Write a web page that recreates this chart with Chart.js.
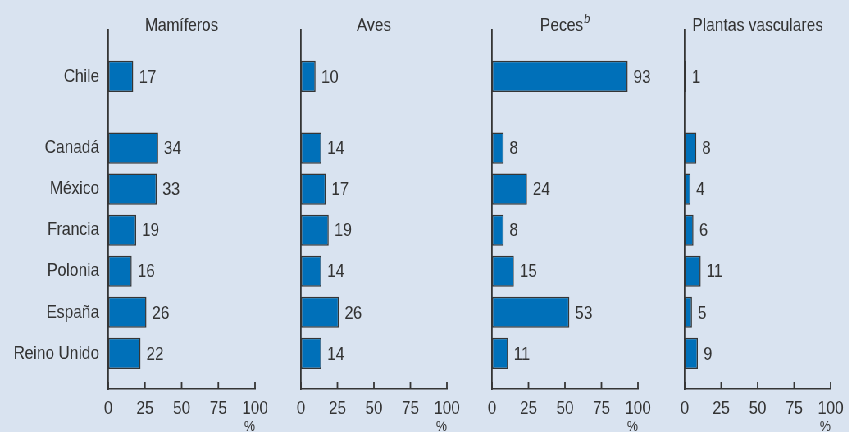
<!DOCTYPE html>
<html>
<head>
<meta charset="utf-8">
<script src="https://cdn.jsdelivr.net/npm/chart.js@4.4.1/dist/chart.umd.min.js"></script>
<style>
  html, body { margin: 0; padding: 0; background: #d9e3f0; overflow: hidden; }
  /* the original uses a condensed face: squeeze the whole drawing horizontally */
  #wrap { position: relative; width: 1035px; height: 432px; transform: scaleX(0.82); transform-origin: 0 0; }
  .panel { position: absolute; top: 0; height: 432px; }
</style>
</head>
<body>
<div id="wrap">
  <div class="panel" style="left:0;width:335px"><canvas id="c0"></canvas></div>
  <div class="panel" style="left:355px;width:214px"><canvas id="c1"></canvas></div>
  <div class="panel" style="left:588px;width:214px"><canvas id="c2"></canvas></div>
  <div class="panel" style="left:823px;width:212px"><canvas id="c3"></canvas></div>
</div>
<script>
const categories = ['Chile', 'Canadá', 'México', 'Francia', 'Polonia', 'España', 'Reino Unido']
const mamiferos = [17, 34, 33, 19, 16, 26, 22]
const aves = [10, 14, 17, 19, 14, 26, 14]
const peces = [93, 8, 24, 8, 15, 53, 11]
const plantas = [1, 8, 4, 6, 11, 5, 9]
const xTicks = [0, 25, 50, 75, 100]

const FAMILY = "'Liberation Sans', Arial, sans-serif"
const SIZE = 19
const TEXT = '#333333'
const BAR = '#0070b9'
const EDGE = '#353535'

// category scale that leaves an extra gap after the first row (Chile)
class GapCategoryScale extends Chart.CategoryScale {
  getPixelForValue(value) {
    if (typeof value !== 'number') value = this.parse(value)
    if (value === null || isNaN(value)) return NaN
    const o = this.options
    const pos = value + (value > o.gapAfter ? o.gapSize : 0)
    const total = (this.max - this.min) + o.gapSize + o.padStart + o.padEnd
    return this.getPixelForDecimal((pos - this.min + o.padStart) / total)
  }
}
GapCategoryScale.id = 'gapcategory'
GapCategoryScale.defaults = Chart.CategoryScale.defaults
Chart.register(GapCategoryScale)

const valueLabels = {
  id: 'valueLabels',
  afterDatasetsDraw(chart) {
    const ctx = chart.ctx
    const values = chart.data.datasets[0].data
    ctx.save()
    ctx.font = SIZE + 'px ' + FAMILY
    ctx.fillStyle = TEXT
    ctx.textBaseline = 'middle'
    ctx.textAlign = 'left'
    chart.getDatasetMeta(0).data.forEach((bar, i) => {
      ctx.fillText(String(values[i]), bar.x + 7, bar.y + 1)
    })
    ctx.restore()
  }
}

const innerTicks = {
  id: 'innerTicks',
  afterDraw(chart) {
    const s = chart.scales.x
    const ctx = chart.ctx
    ctx.save()
    ctx.strokeStyle = EDGE
    ctx.lineWidth = 1.8
    ctx.beginPath()
    s.ticks.forEach((t, i) => {
      const x = s.getPixelForTick(i)
      ctx.moveTo(x, s.top)
      ctx.lineTo(x, s.top - 7)
    })
    ctx.stroke()
    ctx.restore()
  }
}

const panelTitle = {
  id: 'panelTitle',
  afterDraw(chart, args, opts) {
    const ctx = chart.ctx
    const area = chart.chartArea
    const cx = (area.left + area.right) / 2
    ctx.save()
    ctx.fillStyle = TEXT
    ctx.textBaseline = 'alphabetic'
    ctx.font = SIZE + 'px ' + FAMILY
    const w = ctx.measureText(opts.text).width
    let nw = 0
    if (opts.note) {
      ctx.font = 'italic 13px ' + FAMILY
      nw = ctx.measureText(opts.note).width + 1
    }
    const x0 = cx - (w + nw) / 2
    ctx.font = SIZE + 'px ' + FAMILY
    ctx.textAlign = 'left'
    ctx.fillText(opts.text, x0, 31)
    if (opts.note) {
      ctx.font = 'italic 13px ' + FAMILY
      ctx.fillText(opts.note, x0 + w + 1, 23)
    }
    ctx.restore()
  }
}

function makePanel(id, values, title, note, showLabels, yWidth, rightPad) {
  return new Chart(document.getElementById(id), {
    type: 'bar',
    data: {
      labels: categories,
      datasets: [{
        data: values,
        backgroundColor: BAR,
        borderColor: EDGE,
        borderWidth: 1.5,
        borderSkipped: false,
        categoryPercentage: 1,
        barPercentage: 0.76,
      }],
    },
    options: {
      indexAxis: 'y',
      responsive: true,
      maintainAspectRatio: false,
      animation: false,
      events: [],
      layout: { padding: { top: 30, left: 0, right: 0, bottom: 0 } },
      plugins: {
        legend: { display: false },
        tooltip: { enabled: false },
        panelTitle: { text: title, note: note },
      },
      scales: {
        y: {
          type: 'gapcategory',
          gapAfter: 0,
          gapSize: 0.75,
          padStart: 1.13,
          padEnd: 0.87,
          grid: { display: false, drawTicks: false },
          border: { display: true, color: EDGE, width: 1.8 },
          ticks: {
            display: showLabels,
            color: TEXT,
            padding: 11,
            font: { family: FAMILY, size: SIZE },
          },
          afterFit: s => { s.width = yWidth },
        },
        x: {
          type: 'linear',
          min: 0,
          max: 100,
          afterBuildTicks: s => { s.ticks = xTicks.map(v => ({ value: v })) },
          grid: { display: false, drawTicks: false },
          border: { display: true, color: EDGE, width: 1.5 },
          ticks: {
            color: TEXT,
            padding: 8,
            maxRotation: 0,
            minRotation: 0,
            autoSkip: false,
            font: { family: FAMILY, size: SIZE },
          },
          title: {
            display: true,
            text: '%',
            align: 'end',
            color: TEXT,
            padding: { top: 0, bottom: -4 },
            font: { family: FAMILY, size: 15 },
          },
          afterFit: s => {
            s.height = 43
            s.paddingLeft = 0
            s.paddingRight = rightPad
          },
        },
      },
    },
    plugins: [valueLabels, innerTicks, panelTitle],
  })
}

makePanel('c0', mamiferos, 'Mamíferos', '', true, 132, 24)
makePanel('c1', aves, 'Aves', '', false, 12, 24)
makePanel('c2', peces, 'Peces', 'b', false, 12, 24)
makePanel('c3', plantas, 'Plantas vasculares', '', false, 12, 22)
</script>
</body>
</html>
